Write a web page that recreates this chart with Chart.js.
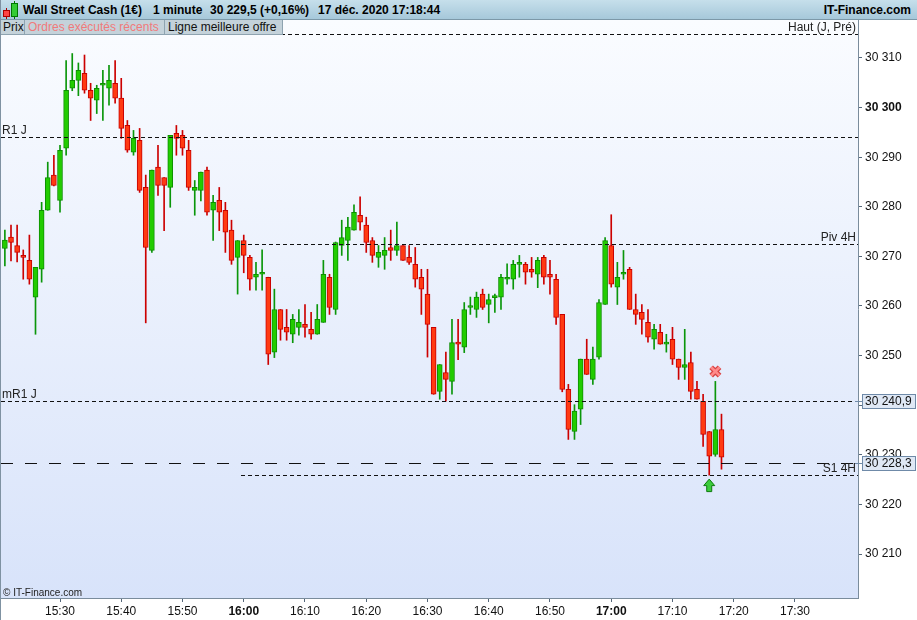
<!DOCTYPE html>
<html lang="fr"><head><meta charset="utf-8">
<title>Wall Street Cash (1€) - 1 minute</title>
<script src="https://cdn.jsdelivr.net/npm/chart.js@4.4.1/dist/chart.umd.min.js"></script>
<style>
html,body{margin:0;padding:0;background:#fff;overflow:hidden;}
#wrap{position:relative;width:917px;height:620px;font-family:"Liberation Sans",Arial,Helvetica,sans-serif;}
#c{position:absolute;left:0;top:0;}
#hdr{position:absolute;left:0;top:0;width:917px;height:20px;box-sizing:border-box;background:linear-gradient(#c6dfeb,#a6c8da);border-bottom:1px solid #7c98a8;font-weight:bold;font-size:12px;color:#000;}
#hdr span{position:absolute;top:3px;white-space:nowrap;line-height:14px;}
.tab{position:absolute;top:20px;height:15px;box-sizing:border-box;background:#c4d2da;border-right:1px solid #8ea3b0;border-bottom:1px solid #8ea3b0;font-size:12px;line-height:14px;padding-left:3px;white-space:nowrap;color:#111;}
#lb{position:absolute;left:0;top:0;width:1px;height:620px;background:#7f92a2;}
.ic{position:absolute;box-sizing:border-box;}
</style></head>
<body>
<div id="wrap">
<canvas id="c" width="917" height="620"></canvas>
<div id="hdr">
  <div class="ic" style="left:6px;top:8px;width:1px;height:11px;background:#a00;"></div>
  <div class="ic" style="left:3px;top:10px;width:7px;height:7px;background:#f44;border:1px solid #a00;"></div>
  <div class="ic" style="left:14px;top:1px;width:1px;height:18px;background:#070;"></div>
  <div class="ic" style="left:11px;top:3px;width:7px;height:14px;background:#3c3;border:1px solid #070;"></div>
  <span style="left:23px">Wall Street Cash (1€)</span>
  <span style="left:153px">1 minute</span>
  <span style="left:210px">30 229,5 (+0,16%)</span>
  <span style="left:318px">17 déc. 2020 17:18:44</span>
  <span style="right:6px">IT-Finance.com</span>
</div>
<div class="tab" style="left:0;width:25px;">Prix</div>
<div class="tab" style="left:25px;width:140px;color:#f07a7a;">Ordres exécutés récents</div>
<div class="tab" style="left:165px;width:118px;">Ligne meilleure offre</div>
<div id="lb"></div>
</div>
<script>
// ---------- DATA ----------
const times = [
'15:21','15:22','15:23','15:24','15:25','15:26','15:27','15:28','15:29',
'15:30','15:31','15:32','15:33','15:34','15:35','15:36','15:37','15:38','15:39',
'15:40','15:41','15:42','15:43','15:44','15:45','15:46','15:47','15:48','15:49',
'15:50','15:51','15:52','15:53','15:54','15:55','15:56','15:57','15:58','15:59',
'16:00','16:01','16:02','16:03','16:04','16:05','16:06','16:07','16:08','16:09',
'16:10','16:11','16:12','16:13','16:14','16:15','16:16','16:17','16:18','16:19',
'16:20','16:21','16:22','16:23','16:24','16:25','16:26','16:27','16:28','16:29',
'16:30','16:31','16:32','16:33','16:34','16:35','16:36','16:37','16:38','16:39',
'16:40','16:41','16:42','16:43','16:44','16:45','16:46','16:47','16:48','16:49',
'16:50','16:51','16:52','16:53','16:54','16:55','16:56','16:57','16:58','16:59',
'17:00','17:01','17:02','17:03','17:04','17:05','17:06','17:07','17:08','17:09',
'17:10','17:11','17:12','17:13','17:14','17:15','17:16','17:17','17:18'];

const opens = [
30271.6,30273.9,30272.2,30270.2,30269.2,30261.8,30267.4,30279.3,30286.4,
30281.3,30291.8,30303.9,30305.5,30306.9,30303.5,30301.5,30304.5,30303.9,30304.9,
30301.9,30296.4,30291.0,30293.4,30283.9,30271.2,30288.0,30285.9,30283.9,30294.8,
30294.4,30291.4,30283.3,30283.3,30287.4,30279.3,30281.3,30279.3,30275.3,30269.8,
30273.2,30269.8,30265.8,30266.4,30265.8,30250.7,30259.3,30255.7,30254.3,30255.7,
30256.3,30255.3,30254.3,30256.7,30265.8,30259.3,30272.2,30273.2,30275.3,30278.3,
30276.3,30273.2,30269.8,30270.2,30271.8,30271.2,30272.2,30269.8,30268.4,30265.8,
30262.4,30255.7,30242.8,30246.6,30244.8,30252.7,30251.7,30259.7,30259.3,30262.4,
30260.3,30261.7,30261.8,30265.4,30265.4,30268.4,30268.4,30267.4,30266.4,30269.8,
30266.4,30265.4,30258.3,30243.2,30234.7,30239.2,30249.3,30245.2,30249.7,30260.3,
30272.2,30263.8,30266.4,30267.4,30259.3,30258.7,30256.7,30253.3,30254.7,30252.3,
30253.3,30249.3,30247.6,30248.6,30243.2,30240.8,30234.7,30230.1,30235.1];

const highs = [
30275.3,30276.3,30276.3,30271.3,30274.3,30267.8,30280.9,30289.0,30290.4,
30292.4,30309.5,30310.9,30309.0,30310.6,30304.9,30304.5,30307.5,30308.5,30309.5,
30305.9,30297.4,30295.4,30295.8,30286.4,30287.4,30292.4,30285.9,30294.4,30296.4,
30295.4,30293.4,30285.3,30287.0,30288.0,30282.3,30283.9,30280.9,30277.3,30273.2,
30274.3,30270.2,30268.8,30271.3,30265.8,30263.4,30259.3,30259.3,30258.3,30259.3,
30260.3,30258.7,30260.3,30269.2,30266.4,30272.9,30277.3,30277.9,30280.4,30282.0,
30277.9,30273.8,30272.2,30273.8,30275.3,30276.9,30272.2,30272.2,30271.8,30267.4,
30267.4,30255.7,30248.2,30250.7,30257.3,30257.3,30260.7,30261.8,30262.8,30263.4,
30262.4,30262.4,30266.4,30268.5,30269.2,30270.2,30268.8,30269.8,30269.8,30270.2,
30269.2,30266.4,30258.3,30244.2,30240.1,30249.3,30253.3,30251.7,30261.3,30273.8,
30278.4,30268.8,30271.2,30267.8,30262.4,30260.3,30259.3,30256.3,30256.3,30254.3,
30255.7,30249.3,30255.3,30250.7,30244.8,30242.2,30234.7,30244.8,30238.2];

const lows = [
30268.1,30269.1,30268.9,30265.4,30264.4,30254.3,30264.8,30279.3,30284.2,
30278.9,30290.4,30303.4,30302.4,30302.9,30297.4,30298.8,30297.4,30300.5,30300.9,
30293.8,30291.0,30290.4,30282.9,30256.6,30270.8,30282.3,30275.2,30279.9,30290.4,
30290.4,30283.3,30278.3,30281.2,30278.3,30273.2,30275.2,30270.8,30268.4,30262.4,
30266.7,30263.2,30263.2,30263.2,30248.2,30249.6,30253.1,30253.1,30252.6,30254.1,
30253.7,30253.3,30254.3,30256.7,30258.3,30258.3,30270.2,30269.2,30275.3,30275.3,
30270.8,30268.8,30267.8,30267.4,30269.2,30270.2,30269.2,30268.4,30263.8,30258.3,
30249.7,30242.2,30241.2,30240.8,30242.2,30249.2,30250.6,30258.3,30257.7,30259.3,
30256.6,30258.7,30259.3,30264.4,30263.4,30265.8,30264.4,30265.8,30263.7,30264.4,
30262.4,30256.3,30242.7,30233.1,30233.1,30236.1,30246.2,30244.2,30249.3,30260.3,
30263.8,30260.3,30265.4,30259.3,30256.3,30254.3,30252.7,30251.3,30252.3,30250.7,
30248.2,30245.2,30245.2,30241.2,30241.2,30231.7,30225.9,30229.7,30227.1];

const closes = [
30273.3,30272.8,30270.8,30269.8,30265.4,30267.8,30279.3,30285.9,30284.3,
30291.4,30303.5,30305.5,30307.5,30303.5,30301.9,30303.9,30304.6,30305.5,30301.9,
30295.8,30291.4,30293.8,30283.3,30271.8,30287.4,30284.3,30284.3,30294.4,30293.8,
30291.8,30283.9,30283.9,30287.0,30278.9,30280.9,30278.9,30274.9,30269.2,30273.2,
30270.2,30265.4,30266.4,30266.5,30250.3,30259.3,30255.3,30254.7,30257.3,30256.7,
30255.7,30254.3,30257.3,30266.4,30259.7,30272.8,30273.8,30275.9,30278.9,30276.9,
30272.8,30270.2,30270.8,30271.2,30271.2,30272.2,30269.2,30268.8,30265.4,30263.4,
30256.3,30242.2,30248.2,30245.2,30252.6,30252.3,30259.3,30259.8,30261.8,30259.7,
30261.3,30261.8,30265.8,30265.8,30268.4,30268.8,30266.8,30266.8,30269.2,30265.8,
30265.8,30257.7,30243.2,30235.1,30238.8,30249.3,30246.2,30249.3,30260.7,30273.2,
30264.4,30265.8,30266.8,30259.3,30258.3,30257.3,30253.7,30255.3,30252.3,30252.7,
30249.3,30247.6,30248.2,30242.8,30241.2,30234.1,30229.7,30235.1,30229.5];

const xTickTimes = ['15:30','15:40','15:50','16:00','16:10','16:20','16:30','16:40','16:50','17:00','17:10','17:20','17:30'];
const yTickValues = [30210,30220,30230,30240,30250,30260,30270,30280,30290,30300,30310];
const yTickLabels = ['30 210','30 220','30 230','30 240','30 250','30 260','30 270','30 280','30 290','30 300','30 310'];

const levelNames  = ['Haut (J, Pré)','R1 J','Piv 4H','mR1 J','S1 4H'];
const levelValues = [30314.8, 30294.1, 30272.5, 30240.9, 30225.9];
const levelFrom   = [null, null, '16:00', null, '16:00'];
const bestOffer   = 30228.3;
const axisTags    = [30240.9, 30228.3];
const sellTimes = ['17:17'], sellPrices = [30246.8];
const buyTimes  = ['17:16'], buyPrices  = [30225.1];

const X_MIN = -9.633, X_MAX = 130.29;      // minutes from 15:30
const Y_MIN = 30201.13, Y_MAX = 30317.66;

// ---------- CHART ----------
const FONT = '"Liberation Sans", Arial, Helvetica, sans-serif';
Chart.defaults.font.family = FONT;
const toMin = s => { const p = s.split(':').map(Number); return p[0]*60 + p[1] - 930; };
const fr = v => { const [a,b] = v.toFixed(1).split('.'); return a.replace(/\B(?=(\d{3})+(?!\d))/g,' ') + ',' + b; };
const up = closes.map((c,i) => c >= opens[i]);
const levelAlign = ['right','left','right','left','right'];

const deco = {
  id:'deco',
  beforeDraw(chart){
    const {ctx, chartArea:a} = chart;
    ctx.save();
    const g = ctx.createLinearGradient(0,a.top,0,a.bottom);
    g.addColorStop(0,'#fafcff'); g.addColorStop(1,'#d8e3fa');
    ctx.fillStyle = g; ctx.fillRect(a.left,a.top,a.right-a.left,a.bottom-a.top);
    ctx.restore();
  },
  afterDatasetsDraw(chart){
    const {ctx, chartArea:a, scales:{x:xs, y:ys}} = chart;
    ctx.save();
    ctx.beginPath(); ctx.rect(a.left,a.top,a.right-a.left,a.bottom-a.top); ctx.clip();
    ctx.strokeStyle = '#111'; ctx.lineWidth = 1;
    levelValues.forEach((v,i) => {
      const y = Math.round(ys.getPixelForValue(v)) + 0.5;
      const x0 = levelFrom[i] ? Math.round(xs.getPixelForValue(toMin(levelFrom[i]))) - 3 : a.left;
      ctx.setLineDash([4,3]); ctx.beginPath(); ctx.moveTo(x0,y); ctx.lineTo(a.right,y); ctx.stroke();
    });
    const yb = Math.round(ys.getPixelForValue(bestOffer)) + 0.5;
    ctx.setLineDash([12,12]); ctx.beginPath(); ctx.moveTo(a.left,yb); ctx.lineTo(a.right,yb); ctx.stroke();
    ctx.setLineDash([]);
    ctx.font = '12px ' + FONT; ctx.fillStyle = '#222'; ctx.textBaseline = 'alphabetic';
    levelValues.forEach((v,i) => {
      const y = Math.round(ys.getPixelForValue(v));
      if (levelAlign[i] === 'left') { ctx.textAlign = 'left'; ctx.fillText(levelNames[i], a.left+1, y-3); }
      else { ctx.textAlign = 'right'; ctx.fillText(levelNames[i], a.right-2, y-3); }
    });
    // sell marker (X)
    sellTimes.forEach((t,i) => {
      const cx = xs.getPixelForValue(toMin(t)), cy = ys.getPixelForValue(sellPrices[i]);
      const d = 4.2;
      [['#d84343',5.2],['#ff8a8a',2.6]].forEach(([c,w]) => {
        ctx.strokeStyle = c; ctx.lineWidth = w; ctx.lineCap = 'butt';
        ctx.beginPath(); ctx.moveTo(cx-d,cy-d); ctx.lineTo(cx+d,cy+d); ctx.moveTo(cx+d,cy-d); ctx.lineTo(cx-d,cy+d); ctx.stroke();
      });
    });
    // buy marker (arrow)
    buyTimes.forEach((t,i) => {
      const cx = xs.getPixelForValue(toMin(t)), ty = ys.getPixelForValue(buyPrices[i]);
      ctx.beginPath();
      ctx.moveTo(cx,ty); ctx.lineTo(cx+5.5,ty+6.5); ctx.lineTo(cx+2.5,ty+6.5); ctx.lineTo(cx+2.5,ty+12.5);
      ctx.lineTo(cx-2.5,ty+12.5); ctx.lineTo(cx-2.5,ty+6.5); ctx.lineTo(cx-5.5,ty+6.5); ctx.closePath();
      ctx.fillStyle = '#3ccc3c'; ctx.fill(); ctx.strokeStyle = '#0d7a0d'; ctx.lineWidth = 1; ctx.stroke();
    });
    ctx.font = '10px ' + FONT; ctx.fillStyle = '#222'; ctx.textAlign = 'left'; ctx.textBaseline = 'middle';
    ctx.fillText('© IT-Finance.com', a.left+2, a.bottom-5);
    ctx.restore();
  },
  afterDraw(chart){
    const {ctx, chartArea:a, scales:{y:ys}} = chart;
    ctx.save();
    axisTags.forEach(v => {
      const y = Math.round(ys.getPixelForValue(v));
      ctx.strokeStyle = '#6f8aa8'; ctx.lineWidth = 1;
      ctx.beginPath(); ctx.moveTo(a.right-3, y+0.5); ctx.lineTo(a.right+4, y+0.5); ctx.stroke();
      ctx.fillStyle = '#dfe8f5'; ctx.fillRect(a.right+4, y-7, 54, 15);
      ctx.strokeRect(a.right+4.5, y-6.5, 53, 14);
      ctx.fillStyle = '#111'; ctx.font = '12px ' + FONT; ctx.textAlign = 'left'; ctx.textBaseline = 'middle';
      ctx.fillText(fr(v), a.right+7, y+1);
    });
    ctx.restore();
  }
};

new Chart(document.getElementById('c'), {
  type:'bar',
  data:{ datasets:[
    { label:'corps', order:0, grouped:false,
      data: times.map((s,i) => ({x:toMin(s), y:[opens[i], closes[i]]})),
      backgroundColor: up.map(u => u ? '#22cc00' : '#ff3a12'),
      borderColor: up.map(u => u ? '#0d8f00' : '#c80000'),
      borderWidth:1, borderSkipped:false, barThickness:5, minBarLength:2 },
    { label:'mèches', order:1, grouped:false,
      data: times.map((s,i) => ({x:toMin(s), y:[lows[i], highs[i]]})),
      backgroundColor: up.map(u => u ? '#0a960a' : '#cc0000'),
      borderWidth:0, barThickness:1 }
  ]},
  options:{
    responsive:false, animation:false, devicePixelRatio:1,
    layout:{padding:{top:20, left:1, right:0, bottom:0}},
    plugins:{legend:{display:false}, tooltip:{enabled:false}},
    scales:{
      x:{ type:'linear', position:'bottom', min:X_MIN, max:X_MAX, offset:false,
          afterBuildTicks: s => { s.ticks = xTickTimes.map(t => ({value:toMin(t)})); },
          afterFit: s => { s.height = 22; },
          grid:{drawOnChartArea:false, drawTicks:true, tickLength:4, color:'#55677a', offset:false},
          border:{display:true, color:'#7a8c9c'},
          ticks:{ autoSkip:false, maxRotation:0, padding:2, color:'#111',
            callback:(v,i) => xTickTimes[i],
            font: c => ({family:FONT, size:12, weight:(c.tick && c.tick.value % 60 === 30) ? 'bold' : 'normal'}) } },
      y:{ position:'right', min:Y_MIN, max:Y_MAX,
          afterBuildTicks: s => { s.ticks = yTickValues.map(v => ({value:v})); },
          afterFit: s => { s.width = 59; },
          grid:{drawOnChartArea:false, drawTicks:true, tickLength:4, color:'#55677a'},
          border:{display:true, color:'#7a8c9c'},
          ticks:{ padding:3, color:'#111',
            callback:(v,i) => yTickLabels[i],
            font: c => ({family:FONT, size:12, weight:(c.tick && c.tick.value % 100 === 0) ? 'bold' : 'normal'}) } }
    }
  },
  plugins:[deco]
});
</script>
</body></html>
